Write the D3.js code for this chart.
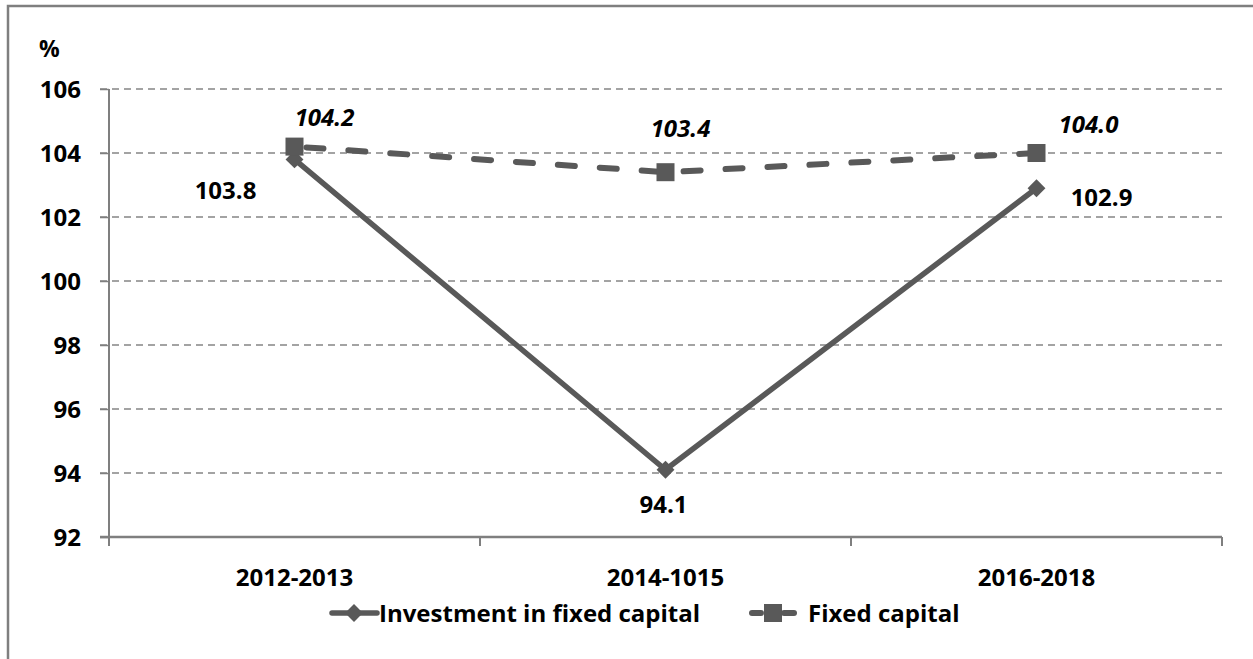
<!DOCTYPE html>
<html>
<head>
<meta charset="utf-8">
<script src="https://cdn.jsdelivr.net/npm/d3@7"></script>
<style>
  html, body { margin: 0; padding: 0; background: #fff; }
  svg { display: block; }
  text { font-family: "Open Sans", "Liberation Sans", sans-serif; font-weight: 700; fill: #000; }
</style>
</head>
<body>
<svg id="chart" width="1253" height="659"></svg>
<script>
const categories = ["2012-2013", "2014-1015", "2016-2018"];
const investment = [103.8, 94.1, 102.9];
const fixedCapital = [104.2, 103.4, 104.0];
const yTicks = [92, 94, 96, 98, 100, 102, 104, 106];
const seriesNames = ["Investment in fixed capital", "Fixed capital"];

(function () {
const svg = d3.select("#chart");
const pL = 109, pR = 1222, pT = 89, pB = 537;
const lineColor = "#595959";
const axisColor = "#7f7f7f";
const fontSize = 24;

// outer frame (extends past the window on right and bottom)
svg.append("rect").attr("x", 8).attr("y", 6).attr("width", 1260).attr("height", 700)
  .attr("fill", "none").attr("stroke", axisColor).attr("stroke-width", 2.5);

const x = d3.scaleBand().domain(categories).range([pL, pR]).paddingInner(0).paddingOuter(0);
const y = d3.scaleLinear().domain([92, 106]).range([pB, pT]);
const cx = d => x(d) + x.bandwidth() / 2;

// gridlines
svg.append("g").selectAll("line").data(yTicks.filter(t => t !== 92)).join("line")
  .attr("x1", pL - 9).attr("x2", pR)
  .attr("y1", d => y(d)).attr("y2", d => y(d))
  .attr("stroke", "#858585").attr("stroke-width", 1.5).attr("stroke-dasharray", "7,5");

// y axis
const yAxis = svg.append("g").attr("transform", `translate(${pL},0)`)
  .call(d3.axisLeft(y).tickValues(yTicks).tickSize(9).tickFormat(d3.format("d")));
yAxis.select(".domain").remove();
yAxis.append("line").attr("x1", 0).attr("x2", 0).attr("y1", pT).attr("y2", pB + 8)
  .attr("stroke", axisColor).attr("stroke-width", 2);
yAxis.selectAll(".tick line").attr("stroke", axisColor).attr("stroke-width", 1.5);
yAxis.selectAll(".tick text").attr("x", -28).attr("dy", "0.36em")
  .style("font-size", fontSize + "px").style("font-family", "'Open Sans', sans-serif").style("font-weight", 700).attr("fill", "#000");

// x axis
svg.append("line").attr("x1", pL - 9).attr("x2", pR).attr("y1", pB).attr("y2", pB)
  .attr("stroke", axisColor).attr("stroke-width", 2.5);
const boundaries = categories.map(c => x(c)).concat([pR]);
svg.append("g").selectAll("line").data(boundaries).join("line")
  .attr("x1", d => d).attr("x2", d => d).attr("y1", pB).attr("y2", pB + 9)
  .attr("stroke", axisColor).attr("stroke-width", 2);
svg.append("g").selectAll("text").data(categories).join("text")
  .attr("x", d => cx(d)).attr("y", 586).attr("text-anchor", "middle")
  .style("font-size", fontSize + "px").text(d => d);

// % label
svg.append("text").attr("x", 39).attr("y", 57).style("font-size", "23px").text("%");

// Fixed capital (dashed) line
const lineGen = d3.line().x((d, i) => cx(categories[i])).y(d => y(d));
svg.append("path").datum(fixedCapital).attr("d", lineGen)
  .attr("fill", "none").attr("stroke", lineColor).attr("stroke-width", 6)
  .attr("stroke-linecap", "round").attr("stroke-dasharray", "17,25").attr("stroke-dashoffset", -12);

// Investment line
svg.append("path").datum(investment).attr("d", lineGen)
  .attr("fill", "none").attr("stroke", lineColor).attr("stroke-width", 5.5);

// markers
const diamond = d3.symbol().type(d3.symbolSquare).size(160);
svg.append("g").selectAll("path").data(investment).join("path")
  .attr("d", diamond)
  .attr("transform", (d, i) => `translate(${cx(categories[i])},${y(d)}) rotate(45)`)
  .attr("fill", lineColor);
svg.append("g").selectAll("rect").data(fixedCapital).join("rect")
  .attr("x", (d, i) => cx(categories[i]) - 9).attr("y", d => y(d) - 9)
  .attr("width", 18).attr("height", 18).attr("fill", lineColor);

// data labels
const invLabelOffset = [[-69, 40], [-2, 43], [65, 18]];
svg.append("g").selectAll("text").data(investment).join("text")
  .attr("x", (d, i) => cx(categories[i]) + invLabelOffset[i][0])
  .attr("y", (d, i) => y(d) + invLabelOffset[i][1])
  .attr("text-anchor", "middle").style("font-size", fontSize + "px")
  .text(d => d3.format(".1f")(d));
const fixLabelOffset = [[30, -21], [15, -35], [52, -20]];
svg.append("g").selectAll("text").data(fixedCapital).join("text")
  .attr("x", (d, i) => cx(categories[i]) + fixLabelOffset[i][0])
  .attr("y", (d, i) => y(d) + fixLabelOffset[i][1])
  .attr("text-anchor", "middle").style("font-size", fontSize + "px").style("font-style", "italic")
  .text(d => d3.format(".1f")(d));

// legend
const ly = 613;
const lg = svg.append("g");
lg.append("line").attr("x1", 332).attr("x2", 377).attr("y1", ly).attr("y2", ly)
  .attr("stroke", lineColor).attr("stroke-width", 5.5).attr("stroke-linecap", "round");
lg.append("path").attr("d", diamond).attr("transform", `translate(354,${ly}) rotate(45)`).attr("fill", lineColor);
lg.append("text").attr("x", 379).attr("y", ly + 9).style("font-size", fontSize + "px").text(seriesNames[0]);
lg.append("line").attr("x1", 752).attr("x2", 761).attr("y1", ly).attr("y2", ly)
  .attr("stroke", lineColor).attr("stroke-width", 6).attr("stroke-linecap", "round");
lg.append("line").attr("x1", 784).attr("x2", 794).attr("y1", ly).attr("y2", ly)
  .attr("stroke", lineColor).attr("stroke-width", 6).attr("stroke-linecap", "round");
lg.append("rect").attr("x", 764).attr("y", ly - 9).attr("width", 18).attr("height", 18).attr("fill", lineColor);
lg.append("text").attr("x", 808).attr("y", ly + 9).style("font-size", fontSize + "px").text(seriesNames[1]);
})();
</script>
</body>
</html>
